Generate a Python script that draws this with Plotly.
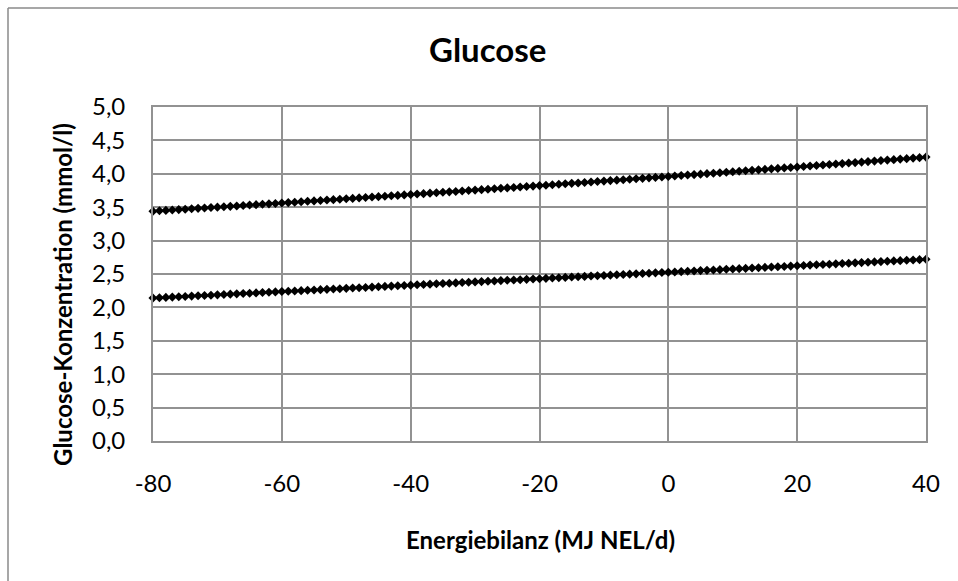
import plotly.graph_objects as go

energiebilanz = list(range(-80, 41))

glucose_oben = [
    3.440, 3.446, 3.452, 3.458, 3.464, 3.470, 3.476, 3.483, 3.489, 3.495,
    3.501, 3.507, 3.513, 3.519, 3.526, 3.532, 3.538, 3.544, 3.550, 3.556,
    3.563, 3.569, 3.575, 3.582, 3.588, 3.594, 3.600, 3.607, 3.613, 3.619,
    3.626, 3.632, 3.639, 3.645, 3.652, 3.658, 3.664, 3.671, 3.677, 3.684,
    3.690, 3.697, 3.703, 3.710, 3.716, 3.723, 3.730, 3.736, 3.743, 3.749,
    3.756, 3.763, 3.769, 3.776, 3.783, 3.789, 3.796, 3.803, 3.809, 3.816,
    3.823, 3.829, 3.836, 3.843, 3.850, 3.857, 3.863, 3.870, 3.877, 3.884,
    3.891, 3.898, 3.905, 3.912, 3.919, 3.925, 3.932, 3.939, 3.946, 3.953,
    3.960, 3.967, 3.974, 3.981, 3.988, 3.995, 4.002, 4.009, 4.016, 4.023,
    4.031, 4.038, 4.045, 4.052, 4.059, 4.066, 4.074, 4.081, 4.088, 4.095,
    4.102, 4.110, 4.117, 4.124, 4.132, 4.139, 4.146, 4.153, 4.161, 4.168,
    4.175, 4.183, 4.190, 4.198, 4.205, 4.212, 4.220, 4.227, 4.235, 4.242,
    4.250,
]

glucose_unten = [
    2.140, 2.145, 2.150, 2.154, 2.159, 2.164, 2.169, 2.174, 2.179, 2.183,
    2.188, 2.193, 2.198, 2.203, 2.208, 2.212, 2.217, 2.222, 2.227, 2.232,
    2.237, 2.241, 2.246, 2.251, 2.256, 2.261, 2.266, 2.270, 2.275, 2.280,
    2.285, 2.290, 2.295, 2.299, 2.304, 2.309, 2.314, 2.319, 2.324, 2.328,
    2.333, 2.338, 2.343, 2.348, 2.353, 2.357, 2.362, 2.367, 2.372, 2.377,
    2.382, 2.386, 2.391, 2.396, 2.401, 2.406, 2.411, 2.415, 2.420, 2.425,
    2.430, 2.435, 2.440, 2.444, 2.449, 2.454, 2.459, 2.464, 2.469, 2.473,
    2.478, 2.483, 2.488, 2.493, 2.498, 2.502, 2.507, 2.512, 2.517, 2.522,
    2.526, 2.531, 2.536, 2.541, 2.546, 2.551, 2.555, 2.560, 2.565, 2.570,
    2.575, 2.580, 2.584, 2.589, 2.594, 2.599, 2.604, 2.609, 2.613, 2.618,
    2.623, 2.628, 2.633, 2.638, 2.642, 2.647, 2.652, 2.657, 2.662, 2.667,
    2.671, 2.676, 2.681, 2.686, 2.691, 2.696, 2.700, 2.705, 2.710, 2.715,
    2.720,
]

x_ticks = [-80, -60, -40, -20, 0, 20, 40]
y_ticks = [0.0, 0.5, 1.0, 1.5, 2.0, 2.5, 3.0, 3.5, 4.0, 4.5, 5.0]
y_tick_labels = ["0,0", "0,5", "1,0", "1,5", "2,0", "2,5", "3,0", "3,5", "4,0", "4,5", "5,0"]

title_text = "Glucose"
x_title = "Energiebilanz (MJ NEL/d)"
y_title = "Glucose-Konzentration (mmol/l)"

FONT = "Lato"
GRID = "#929292"

# body margin is removed by the post script, so figure px == screen px
W, H = 958, 581
L, R, T, B = 153, 958 - 926, 107, 581 - 441
pw, ph = W - L - R, H - T - B

def sx(px):
    return (px - L) / pw

def sy(py):
    return (H - B - py) / ph

fig = go.Figure()
for ys in (glucose_oben, glucose_unten):
    fig.add_trace(go.Scatter(
        x=energiebilanz, y=ys, mode="lines+markers",
        line=dict(color="black", width=1.5),
        marker=dict(symbol="diamond", size=7, color="black"),
        showlegend=False, cliponaxis=False,
    ))

fig.update_layout(
    width=W, height=H,
    margin=dict(l=L, r=R, t=T, b=B),
    paper_bgcolor="white", plot_bgcolor="white",
    font=dict(family=FONT, color="black", size=24),
    xaxis=dict(
        range=[-80, 40], tickvals=x_ticks, ticktext=[str(v) for v in x_ticks],
        showgrid=True, gridcolor=GRID, gridwidth=1.8,
        showline=True, linecolor=GRID, linewidth=1.8, mirror=True,
        zeroline=False, ticks="outside", ticklen=20, tickcolor="rgba(0,0,0,0)",
        tickfont=dict(size=24, family=FONT),
    ),
    yaxis=dict(
        range=[0, 5], tickvals=y_ticks, ticktext=y_tick_labels,
        showgrid=True, gridcolor=GRID, gridwidth=1.8,
        showline=True, linecolor=GRID, linewidth=1.8, mirror=True,
        zeroline=False, ticks="outside", ticklen=21, tickcolor="rgba(0,0,0,0)",
        tickfont=dict(size=24, family=FONT),
    ),
    annotations=[
        dict(text="<b>" + title_text + "</b>", xref="paper", yref="paper",
             x=sx(487), y=sy(49), xanchor="center", yanchor="middle",
             showarrow=False, font=dict(size=33, family=FONT, color="black")),
        dict(text="<b>" + x_title + "</b>", xref="paper", yref="paper",
             x=sx(540), y=sy(539), xanchor="center", yanchor="middle",
             showarrow=False, font=dict(size=24, family=FONT, color="black")),
        dict(text="<b>" + y_title + "</b>", textangle=-90, xref="paper", yref="paper",
             x=sx(62), y=sy(295), xanchor="center", yanchor="middle",
             showarrow=False, font=dict(size=24, family=FONT, color="black")),
    ],
    shapes=[
        dict(type="line", xref="paper", yref="paper",
             x0=sx(8), x1=sx(970), y0=sy(8), y1=sy(8),
             line=dict(color="#8a8a8a", width=1.5)),
        dict(type="line", xref="paper", yref="paper",
             x0=sx(8), x1=sx(8), y0=sy(8), y1=sy(600),
             line=dict(color="#8a8a8a", width=1.5)),
    ],
)

fig.write_html(
    "out.html",
    config={"displayModeBar": False},
    post_script=(
        "document.documentElement.style.overflow='hidden';"
        "document.body.style.overflow='hidden';"
        "document.body.style.margin='0';"
    ),
)
